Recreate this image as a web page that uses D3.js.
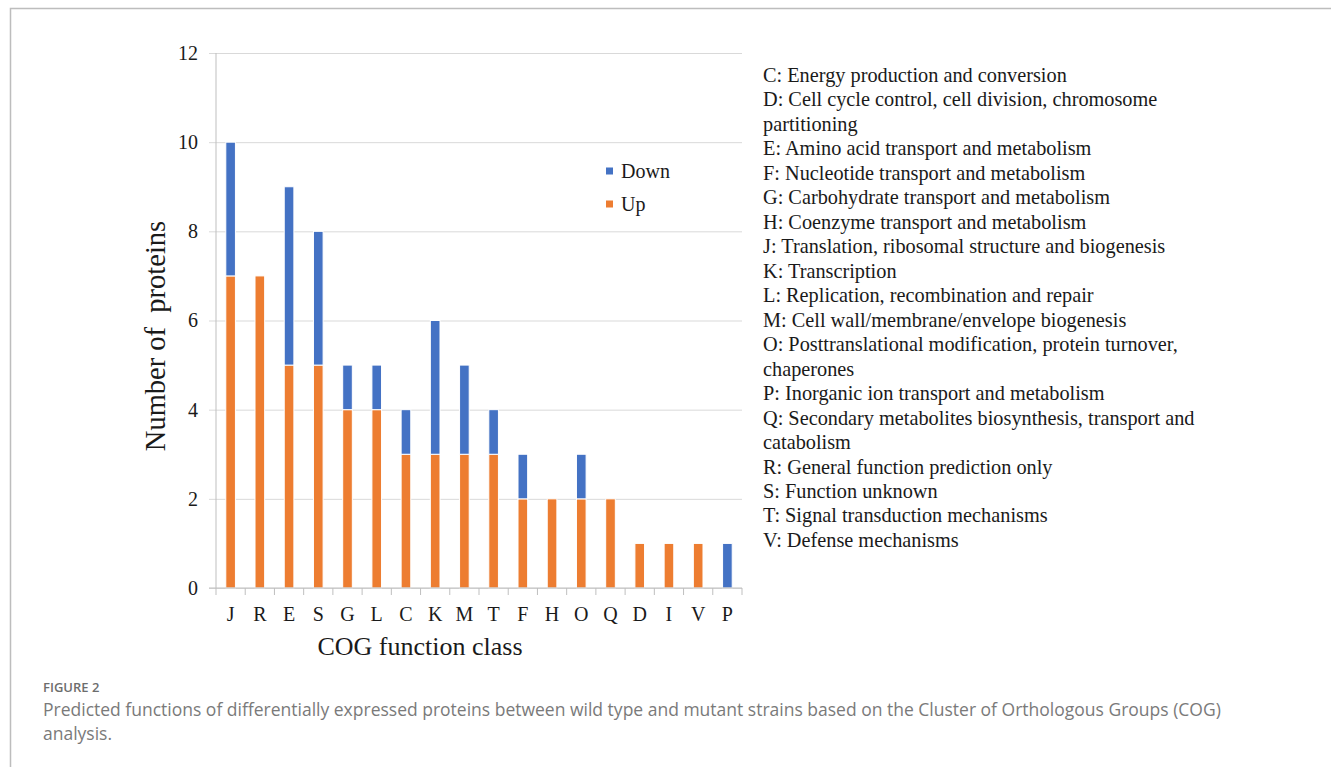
<!DOCTYPE html>
<html>
<head>
<meta charset="utf-8">
<script src="https://cdn.jsdelivr.net/npm/d3@7"></script>
<style>
  body { margin: 0; background: #fff; }
  svg text { font-family: "Liberation Serif", "Times New Roman", serif; fill: #1a1a1a; }
  .caption text { font-family: "Open Sans", sans-serif; }
  .axis path { display: none; }
  .axis line { stroke: #d9d9d9; }
</style>
</head>
<body>
<div class="chart"></div>
<script>
'use strict'

// Data.
const classes = ['J', 'R', 'E', 'S', 'G', 'L', 'C', 'K', 'M', 'T', 'F', 'H', 'O', 'Q', 'D', 'I', 'V', 'P'];
const upCounts = [7, 7, 5, 5, 4, 4, 3, 3, 3, 3, 2, 2, 2, 2, 1, 1, 1, 0];
const downCounts = [3, 0, 4, 3, 1, 1, 1, 3, 2, 1, 1, 0, 1, 0, 0, 0, 0, 1];
const yTicks = [0, 2, 4, 6, 8, 10, 12];
const seriesNames = ['Up', 'Down'];

const cogDescriptions = [
    'C: Energy production and conversion',
    'D: Cell cycle control, cell division, chromosome',
    'partitioning',
    'E: Amino acid transport and metabolism',
    'F: Nucleotide transport and metabolism',
    'G: Carbohydrate transport and metabolism',
    'H: Coenzyme transport and metabolism',
    'J: Translation, ribosomal structure and biogenesis',
    'K: Transcription',
    'L: Replication, recombination and repair',
    'M: Cell wall/membrane/envelope biogenesis',
    'O: Posttranslational modification, protein turnover,',
    'chaperones',
    'P: Inorganic ion transport and metabolism',
    'Q: Secondary metabolites biosynthesis, transport and',
    'catabolism',
    'R: General function prediction only',
    'S: Function unknown',
    'T: Signal transduction mechanisms',
    'V: Defense mechanisms'
];

const captionLines = [
    'Predicted functions of differentially expressed proteins between wild type and mutant strains based on the Cluster of Orthologous Groups (COG)',
    'analysis.'
];

let width = 1331,
    height = 767,
    colours = {Up: '#ED7D31', Down: '#4472C4'};

let svg = d3.select('.chart')
    .append('svg')
    .attr('width', width)
    .attr('height', height);

// Page frame (top and left rules).
svg.append('path')
    .attr('d', `M10.5,${height} V8.5 H${width}`)
    .attr('fill', 'none')
    .attr('stroke', '#bdbdbd')
    .attr('stroke-width', 1.5);

// Build table for stacking.
let table = classes.map((c, i) => ({cls: c, Up: upCounts[i], Down: downCounts[i]}));
let stacked = d3.stack().keys(seriesNames)(table);

// Scales.
let x = d3.scaleBand()
    .domain(classes)
    .range([216, 742])
    .paddingInner(0.67)
    .paddingOuter(0.335);

let xStep = d3.scaleBand().domain(classes).range([216, 742]);

let y = d3.scaleLinear()
    .domain([0, 12])
    .range([588, 53]);

// Gridlines + y labels.
let yAxis = d3.axisLeft(y)
    .tickValues(yTicks)
    .tickSize(-(742 - 209))
    .tickPadding(11)
    .tickFormat(d3.format('d'));

svg.append('g')
    .attr('class', 'axis yAxis')
    .attr('transform', 'translate(209,0)')
    .call(yAxis)
    .call(g => g.selectAll('text')
        .style('font-size', '20px')
        .attr('x', -11));

// Vertical axis line.
svg.append('line')
    .attr('x1', 216).attr('x2', 216)
    .attr('y1', y(12)).attr('y2', y(0))
    .attr('stroke', '#bfbfbf');

// Bars.
svg.append('g')
    .attr('class', 'bars')
    .selectAll('g')
    .data(stacked)
    .join('g')
    .attr('fill', d => colours[d.key])
    .selectAll('rect')
    .data(d => d.filter(v => v[1] > v[0]))
    .join('rect')
    .attr('x', d => x(d.data.cls))
    .attr('width', x.bandwidth())
    .attr('y', d => y(d[1]))
    .attr('height', d => y(d[0]) - y(d[1]))
    .attr('stroke', '#fff')
    .attr('stroke-width', 1);

// X axis line and ticks.
svg.append('line')
    .attr('x1', 209).attr('x2', 742)
    .attr('y1', y(0)).attr('y2', y(0))
    .attr('stroke', '#bfbfbf');

svg.append('g')
    .attr('class', 'xTicks')
    .selectAll('line')
    .data(classes.concat(['end']))
    .join('line')
    .attr('x1', (d, i) => 216 + i * xStep.step())
    .attr('x2', (d, i) => 216 + i * xStep.step())
    .attr('y1', y(0))
    .attr('y2', y(0) + 7)
    .attr('stroke', '#bfbfbf');

svg.append('g')
    .attr('class', 'xLabels')
    .selectAll('text')
    .data(classes)
    .join('text')
    .attr('x', d => xStep(d) + xStep.bandwidth() / 2)
    .attr('y', 621)
    .attr('text-anchor', 'middle')
    .style('font-size', '20px')
    .text(d => d);

// Axis titles.
svg.append('text')
    .attr('x', 420)
    .attr('y', 655)
    .attr('text-anchor', 'middle')
    .style('font-size', '26px')
    .text('COG function class');

svg.append('text')
    .attr('transform', 'translate(165,336) rotate(-90)')
    .attr('text-anchor', 'middle')
    .style('font-size', '28.5px')
    .style('white-space', 'pre')
    .text('Number of  proteins');

// Legend.
let legend = svg.append('g')
    .attr('class', 'legend')
    .selectAll('g')
    .data(['Down', 'Up'])
    .join('g')
    .attr('transform', (d, i) => `translate(606,${171 + i * 33})`);

legend.append('rect')
    .attr('x', 0).attr('y', -3.5)
    .attr('width', 7).attr('height', 7)
    .attr('fill', d => colours[d]);

legend.append('text')
    .attr('x', 15)
    .attr('y', 6.5)
    .style('font-size', '20px')
    .text(d => d);

// COG class descriptions.
svg.append('g')
    .attr('class', 'descriptions')
    .selectAll('text')
    .data(cogDescriptions)
    .join('text')
    .attr('x', 763)
    .attr('y', (d, i) => 82 + i * 24.47)
    .style('font-size', '20.3px')
    .text(d => d);

// Caption.
let caption = svg.append('g').attr('class', 'caption');

caption.append('text')
    .attr('x', 43)
    .attr('y', 692)
    .style('font-size', '13px')
    .style('font-weight', 600)
    .style('fill', '#6d6d6d')
    .text('FIGURE 2');

caption.selectAll('text.line')
    .data(captionLines)
    .join('text')
    .attr('class', 'line')
    .attr('x', 43)
    .attr('y', (d, i) => 716 + i * 24)
    .style('font-size', '17.5px')
    .style('fill', '#7a7a7a')
    .text(d => d);
</script>
</body>
</html>
